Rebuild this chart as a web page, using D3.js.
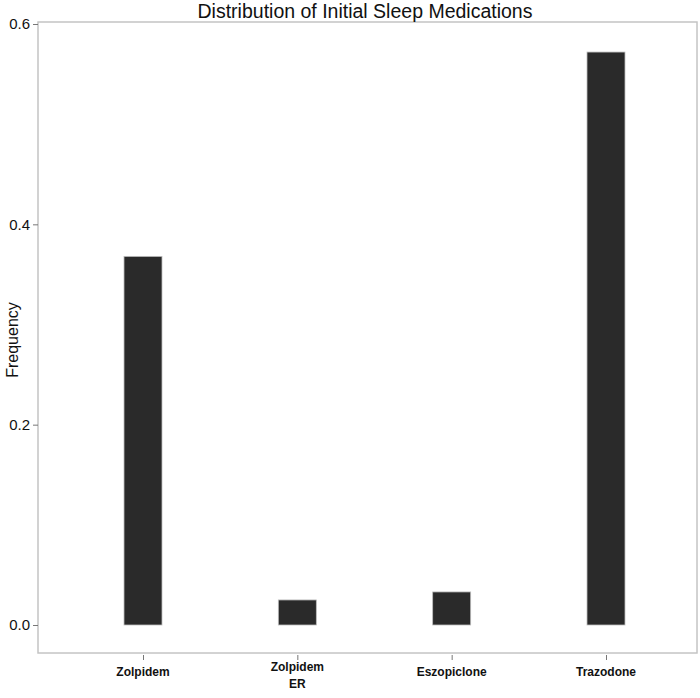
<!DOCTYPE html>
<html>
<head>
<meta charset="utf-8">
<script src="https://cdn.jsdelivr.net/npm/d3@7"></script>
<style>
  body { margin: 0; background: #fff; }
  text { font-family: "Liberation Sans", Arial, Helvetica, sans-serif; }
</style>
</head>
<body>
<div id="chart"></div>
<script>
// data
var medications = ["Zolpidem", "Zolpidem\nER", "Eszopiclone", "Trazodone"];
var frequency = [0.368, 0.025, 0.033, 0.572];
var yTicks = [0.0, 0.2, 0.4, 0.6];

var width = 700;
var height = 698;

// panel box (don't call it "top", that's window.top)
var pLeft = 38, pRight = 697, pTop = 22, pBottom = 653;

var svg = d3.select("#chart").append("svg")
    .attr("width", width)
    .attr("height", height);

var x = d3.scalePoint()
    .domain(medications)
    .range([pLeft + 105, pRight - 91]);

var y = d3.scaleLinear()
    .domain([0, 0.6])
    .range([625, 24]);

var barW = 38;

// panel border
svg.append("rect")
    .attr("x", pLeft)
    .attr("y", pTop)
    .attr("width", pRight - pLeft)
    .attr("height", pBottom - pTop)
    .attr("fill", "none")
    .attr("stroke", "#c4c4c4")
    .attr("stroke-width", 1.5);

// bars
svg.append("g")
    .selectAll("rect")
    .data(medications)
    .enter().append("rect")
    .attr("x", function(d) { return x(d) - barW / 2; })
    .attr("width", barW)
    .attr("y", function(d, i) { return y(frequency[i]); })
    .attr("height", function(d, i) { return y(0) - y(frequency[i]); })
    .attr("fill", "#2a2a2a")
    .attr("stroke", "#bdbdbd")
    .attr("stroke-width", 0.8);

// y axis
var yAxis = svg.append("g")
    .attr("transform", "translate(" + pLeft + ",0)")
    .call(d3.axisLeft(y).tickValues(yTicks).tickFormat(d3.format(".1f")).tickSize(5).tickPadding(3));
yAxis.select(".domain").remove();
yAxis.selectAll(".tick line").attr("stroke", "#777");
yAxis.selectAll(".tick text")
    .attr("fill", "#111")
    .style("font-size", "15px")
    .style("font-family", "Liberation Sans, Arial, sans-serif");

// x axis
var xAxis = svg.append("g")
    .attr("transform", "translate(0," + pBottom + ")")
    .call(d3.axisBottom(x).tickSize(7).tickFormat(""));
xAxis.select(".domain").remove();
xAxis.selectAll(".tick line").attr("stroke", "#777").attr("y1", 2);

// x labels (bold, may wrap)
svg.append("g")
    .selectAll("text")
    .data(medications)
    .enter().append("text")
    .attr("text-anchor", "middle")
    .attr("font-weight", "bold")
    .attr("font-size", "12px")
    .attr("fill", "#111")
    .each(function(d) {
        var lines = d.split("\n");
        var t = d3.select(this);
        var y0 = lines.length > 1 ? 671 : 676;
        lines.forEach(function(l, k) {
            t.append("tspan")
                .attr("x", x(d))
                .attr("y", y0 + k * 17)
                .text(l);
        });
    });

// y label
svg.append("text")
    .attr("transform", "translate(18," + 340 + ") rotate(-90)")
    .attr("text-anchor", "middle")
    .attr("font-size", "16px")
    .attr("fill", "#111")
    .text("Frequency");

// title
svg.append("text")
    .attr("x", 365)
    .attr("y", 18)
    .attr("text-anchor", "middle")
    .attr("font-size", "19.5px")
    .attr("fill", "#111")
    .text("Distribution of Initial Sleep Medications");
</script>
</body>
</html>
